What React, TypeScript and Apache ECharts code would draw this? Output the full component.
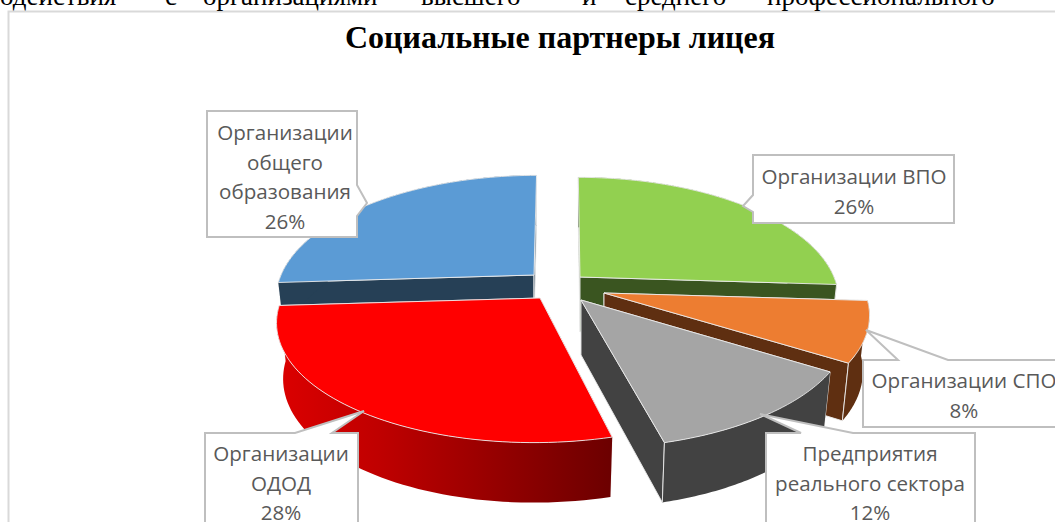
import React, { useEffect, useRef } from "react";
import * as echarts from "echarts";

const sliceNames = ["Организации ВПО", "Организации СПО", "Предприятия реального сектора", "Организации ОДОД", "Организации общего образования"];
const sliceValues = [26, 8, 12, 28, 26];
const topColors = ["#92D050", "#ED7D31", "#A5A5A5", "#FF0000", "#5B9BD5"];
const wallColors = ["#3A5520", "#5F2F11", "#424242", "#A00000", "#264056"];
const titleText = "Социальные партнеры лицея";
const pageWords = ["одействия", "с", "организациями", "высшего", "и", "среднего", "профессионального"];

// painter's order of slices (back to front)
const drawOrder = [4, 0, 1, 2, 3];
const apexes = [[580, 277], [604, 293], [581, 300], [540, 298], [534, 275]];
const radii = [254, 261, 264, 258, 253];
const skews = [2, 0, 3, -5, -3];
const flatten = [118, 118, 121, 118, 118];
const K = 0.184, DEPTH = 55;

const total = sliceValues.reduce((a, b) => a + b, 0);
function startAngle(i: number) {
  let s = 0;
  for (let j = 0; j < i; j++) s += sliceValues[j];
  return (s / total) * Math.PI * 2;
}
function top(i: number, t: number, r = 1): [number, number] {
  const X = Math.sin(t) * r, Y = -Math.cos(t) * r, s = 1 / (1 - K * Y);
  return [apexes[i][0] + radii[i] * X * s + skews[i] * Y * s, apexes[i][1] + flatten[i] * Y * s];
}
function bottom(i: number, t: number, r = 1): [number, number] {
  const p = top(i, t, r);
  const Y = -Math.cos(t) * r;
  return [apexes[i][0] + (p[0] - apexes[i][0]) * 0.975, p[1] + DEPTH + 5 * Y];
}

function renderSlice(_: any, api: any) {
  const i = api.value(0) as number;
  const a0 = startAngle(i);
  const a1 = a0 + (sliceValues[i] / total) * Math.PI * 2;
  const n = 60;
  const arcT: number[] = [];
  for (let k = 0; k <= n; k++) arcT.push(a0 + ((a1 - a0) * k) / n);
  const topArc = arcT.map((t) => top(i, t));
  const botArc = arcT.map((t) => bottom(i, t));
  const apex = top(i, 0, 0);
  const apexB = bottom(i, 0, 0);
  const edge = "rgba(235,235,235,0.9)";
  const wallFill: any = i === 3
    ? new echarts.graphic.LinearGradient(0, 0, 1, 0, [
        { offset: 0, color: "#DC0000" },
        { offset: 0.3, color: "#C00000" },
        { offset: 1, color: "#6C0000" },
      ])
    : wallColors[i];
  return {
    type: "group",
    children: [
      { type: "polygon", shape: { points: [apex, topArc[0], botArc[0], apexB] }, style: { fill: wallColors[i], stroke: edge, lineWidth: 1 } },
      { type: "polygon", shape: { points: [apex, topArc[n], botArc[n], apexB] }, style: { fill: wallColors[i], stroke: edge, lineWidth: 1 } },
      { type: "polygon", shape: { points: [...topArc, ...botArc.slice().reverse()] }, style: { fill: wallFill } },
      { type: "polyline", shape: { points: [topArc[n], botArc[n]] }, style: { stroke: i === 3 ? "transparent" : edge, lineWidth: 1, fill: "none" } },
      { type: "polygon", shape: { points: [apex, ...topArc] }, style: { fill: topColors[i], stroke: edge, lineWidth: 1 } },
    ],
  };
}

const labelFont = '"Open Sans", sans-serif';
function callout(points: number[][], lines: string[], cx: number, firstY: number) {
  return [
    { type: "polygon", z: 20, shape: { points }, style: { fill: "#fff", stroke: "#BFBFBF", lineWidth: 2 } },
    ...lines.map((t, k) => ({
      type: "text", z: 21, x: cx, y: firstY + k * 29.5,
      style: { text: t, fill: "#595959", font: `20.6px ${labelFont}`, textAlign: "center", textVerticalAlign: "middle" },
    })),
  ];
}

export default function App() {
  const ref = useRef<HTMLDivElement>(null);
  useEffect(() => {
    document.body.style.margin = "0";
    const chart = echarts.init(ref.current!, undefined, { renderer: "svg" });
    const pct = (i: number) => `${sliceValues[i]}%`;
    const wordX = [0, 165, 203, 421, 582, 625, 767];
    chart.setOption({
      animation: false,
      backgroundColor: "#fff",
      series: [{
        type: "custom",
        coordinateSystem: "none",
        renderItem: renderSlice,
        data: drawOrder.map((i) => [i]),
        silent: true,
      }],
      graphic: { elements: [
        { type: "rect", z: -1, shape: { x: 8.5, y: 11.5, width: 1200, height: 700 }, style: { fill: "none", stroke: "#D9D9D9", lineWidth: 2 } },
        ...pageWords.map((w, k) => ({
          type: "text", z: 5, x: wordX[k], y: 9,
          style: { text: w, fill: "#000", font: '27px "Liberation Serif", serif', textVerticalAlign: "bottom" },
        })),
        { type: "text", z: 21, x: 560, y: 37, style: { text: titleText, fill: "#000", font: 'bold 32px "Liberation Serif", serif', textAlign: "center", textVerticalAlign: "middle" } },
        ...callout([[207, 111], [357, 111], [357, 185], [367, 203], [357, 216], [357, 237], [207, 237]], ["Организации", "общего", "образования", pct(4)], 285, 132),
        ...callout([[753, 155], [954, 155], [954, 223], [753, 223], [753, 212], [743, 206], [753, 195]], ["Организации ВПО", pct(0)], 854, 176),
        ...callout([[863, 360], [898, 360], [866, 330], [948, 360], [1100, 360], [1100, 427], [863, 427]], ["Организации СПО", pct(1)], 964, 380),
        ...callout([[766, 433], [801, 433], [760, 414], [853, 433], [975, 433], [975, 560], [766, 560]], ["Предприятия", "реального сектора", pct(2)], 870, 453),
        ...callout([[205, 433], [295, 433], [364, 411], [332, 433], [358, 433], [358, 560], [205, 560]], ["Организации", "ОДОД", pct(3)], 281, 453),
      ] },
    });
    return () => chart.dispose();
  }, []);
  return <div ref={ref} style={{ position: "absolute", left: 0, top: 0, width: 1055, height: 522 }} />;
}
